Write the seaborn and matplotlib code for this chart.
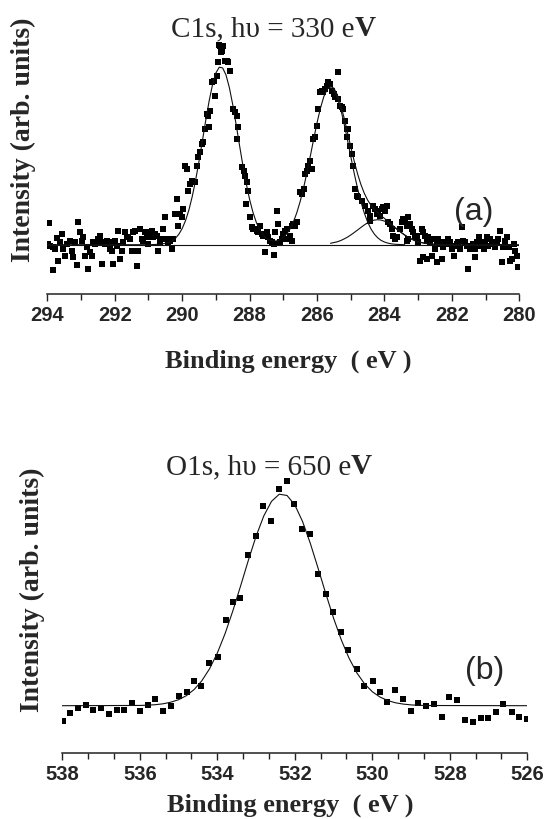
import matplotlib
matplotlib.use("Agg")
import matplotlib.pyplot as plt
import numpy as np
import pandas as pd
import seaborn as sns
from matplotlib.ticker import AutoMinorLocator

# ---------------- data (a) C1s, hv = 330 eV ----------------
c1_E_a = [293.97, 293.94, 293.92, 293.84, 293.82, 293.77, 293.72, 293.67, 293.62, 293.57,
          293.53, 293.48, 293.43, 293.33, 293.28, 293.23, 293.18, 293.13, 293.08, 293.03,
          292.98, 292.93, 292.88, 292.83, 292.78, 292.73, 292.68, 292.64, 292.59, 292.54,
          292.49, 292.44, 292.39, 292.34, 292.29, 292.24, 292.19, 292.14, 292.09, 292.04,
          292.04, 291.99, 291.94, 291.89, 291.84, 291.79, 291.75, 291.70, 291.65, 291.60,
          291.55, 291.50, 291.45, 291.40, 291.35, 291.30, 291.25, 291.20, 291.15, 291.10,
          291.05, 291.00, 290.95, 290.90, 290.86, 290.81, 290.76, 290.71, 290.66, 290.61,
          290.56, 290.51, 290.46, 290.41, 290.36, 290.31, 290.26, 290.21, 290.16, 290.11,
          290.07, 290.01, 289.97, 289.92, 289.87, 289.82, 289.77, 289.72]
c1_I_a = [0.7, 21.4, -1, -2.6, -25, -4.3, 6.4, -16, 2.4, 10.7,
          -4.3, -11, 0.7, 4, -6, -12.6, 2.4, -20.3, 22.4, 12.4,
          4, 7.4, -11, -2.6, -24.3, -7.6, -11, 2.4, 0.7, 2.4,
          5.7, 9, -19.3, 2.4, 0.7, 4, 2.4, -4.3, -6, 2.4,
          -19.3, 4, -1, 14, -14.3, -6, 2.4, 12.4, 7.4, 7.4,
          5.7, -6, 12.4, 14, -21, -6, 15.7, 5.7, 4, 12.4,
          7.4, 0.7, 12.4, 14, 7.4, 10.7, 9, -6, 2.4, 5.7,
          15.7, 27.4, 5.7, 2.4, 4, -4.3, 5.7, 30.7, 45.7, 19,
          30.7, 27.4, 35.7, 79, 75.7, 54, 60.7, 64]
c1_E_b = [289.62, 289.57, 289.52, 289.47, 289.42, 289.37, 289.32, 289.27, 289.22, 289.20,
          289.17, 289.12, 289.07, 289.02, 288.98, 288.93, 288.91, 288.88, 288.85, 288.83,
          288.79, 288.73, 288.68, 288.63, 288.58, 288.48, 288.43, 288.38, 288.33, 288.36,
          288.23, 288.18, 288.13, 288.09, 288.04, 288.11, 287.99, 287.94, 287.89, 287.84,
          287.79, 287.74, 287.69, 287.64, 287.59, 287.54, 287.49, 287.44, 287.39, 287.34,
          287.29, 287.27, 287.25, 287.20, 287.15, 287.10, 287.05, 287.00, 286.95, 286.90,
          286.85, 286.80, 286.75, 286.75, 286.70, 286.65, 286.60, 286.50, 286.45, 286.40,
          286.36, 286.31, 286.26, 286.21, 286.16, 286.11, 286.06, 286.01, 285.96, 285.91,
          285.86, 285.81, 285.76, 285.71, 285.66, 285.61, 285.56, 285.51, 285.47, 285.39,
          285.37, 285.32, 285.27, 285.22, 285.17, 285.12, 285.12, 285.07, 285.02, 284.97,
          284.92]
c1_I_b = [62.4, 79, 87.4, 92.4, 100.7, 102.4, 115.7, 130.7, 129, 117.4,
          134, 162.4, 164, 149, 169, 182.4, 199.7, 198.4, 193, 194,
          199, 184, 184, 182.4, 174, 135.7, 132.4, 129, 117.4, 105.7,
          77.4, 74, 69, 62.4, 54, 40.7, 27.4, 17.4, 15.7, 15.7,
          14, 12.4, 19, 10.7, 9, -7.6, 12.4, 7.4, 4, 2.4,
          0.7, -10.3, 12.4, 34, 20.7, 2.4, 5.7, 10.7, 14, 15.7,
          5.7, 9, 4, 19, 20.7, 19, 22.4, 52.4, 50.7, 55.7,
          70.7, 74, 79, 84, 75.7, 105.7, 107.4, 119, 135.7, 152.4,
          154, 152.4, 155.7, 159, 162.4, 160.7, 154, 150.7, 147.4, 172.4,
          145.7, 139, 137.4, 135.7, 124, 115.7, 107.4, 115.7, 99, 90.7,
          79]
c1_E_c = [284.87, 284.82, 284.77, 284.67, 284.58, 284.48, 284.43, 284.43, 284.33, 284.28,
          284.23, 284.18, 284.13, 284.08, 284.03, 283.98, 283.93, 283.88, 283.83, 283.78,
          283.74, 283.69, 283.64, 283.54, 283.49, 283.44, 283.39, 283.34, 283.34, 283.29,
          283.29, 283.24, 283.19, 283.14, 283.09, 283.04, 282.99, 282.94, 282.89, 282.85,
          282.85, 282.80, 282.75, 282.75, 282.70, 282.65, 282.60, 282.55, 282.50, 282.45,
          282.45, 282.40, 282.35, 282.30, 282.25, 282.20, 282.15, 282.10, 282.05, 282.00,
          281.95, 281.91, 281.86, 281.81, 281.76, 281.71, 281.66, 281.61, 281.56, 281.51,
          281.46, 281.41, 281.36, 281.31, 281.31, 281.26, 281.21, 281.16, 281.11, 281.06,
          281.01, 280.97, 280.92, 280.87, 280.82, 280.77, 280.72, 280.67, 280.62, 280.57,
          280.52, 280.47, 280.42, 280.37, 280.32, 280.27, 280.22, 280.17, 280.13, 280.08,
          280.03]
c1_I_c = [55.7, 49, 47.4, 44, 39, 34, 29, 24, 39, 35.7,
          30.7, 34, 29, 35.7, 37.4, 34, 39, 22.4, 20.7, 15.7,
          9, 5.7, 7.4, 15.7, 22.4, 25.7, 24, 19, 4, 27.4,
          5.7, 20.7, 15.7, 12.4, 7.4, 9, 2.4, -16, 15.7, 12.4,
          -12.6, 9, 4, -14.3, 7.4, 2.4, -11, 5.7, -4.3, 0.7,
          -17.7, 5.7, 2.4, -14.3, -2.6, 2.4, 0.7, 5.7, 2.4, -4.3,
          -11, -1, 0.7, 2.4, -4.3, 17.4, 4, 2.4, -1, -24.3,
          -4.3, -1, 0.7, -4.3, -12.6, 2.4, 7.4, -1, 2.4, -4.3,
          2.4, 7.4, -1, 5.7, 0.7, 2.4, -2.6, 2.4, 5.7, 14,
          -17.7, -2.6, 4, 7.4, -2.6, -16, -14.3, 0.7, -6, -11,
          -22.6]

# fitted envelope
c1_fit_E = [294.0, 291.0, 290.8, 290.6, 290.4, 290.3, 290.2, 290.1, 290.0, 289.9,
            289.8, 289.7, 289.6, 289.5, 289.4, 289.3, 289.2, 289.1, 289.0, 288.9,
            288.8, 288.7, 288.6, 288.5, 288.4, 288.3, 288.2, 288.1, 288.0, 287.9,
            287.8, 287.7, 287.6, 287.5, 287.4, 287.3, 287.2, 287.1, 287.0, 286.9,
            286.8, 286.7, 286.6, 286.5, 286.4, 286.3, 286.2, 286.1, 286.0, 285.9,
            285.8, 285.7, 285.6, 285.5, 285.4, 285.3, 285.2, 285.1, 285.0, 284.9,
            284.8, 284.7, 284.6, 284.5, 284.4, 284.3, 284.2, 284.1, 284.0, 283.9,
            283.8, 283.7, 283.6, 283.5, 283.4, 283.3, 283.2, 283.1, 283.0, 282.8,
            282.6, 282.4, 282.2, 282.0, 280.0]
c1_fit_I = [0, 0, 0.2, 0.7, 2.2, 3.9, 6.4, 10.4, 16.1, 24.1,
            34.7, 48.3, 64.7, 83.5, 103.8, 124.4, 143.7, 160.0, 171.7, 177.5,
            176.8, 169.8, 157.1, 140.1, 120.4, 99.7, 79.5, 61.2, 45.3, 32.4,
            22.3, 14.9, 9.8, 6.3, 4.4, 3.6, 3.8, 4.9, 7.2, 10.8,
            15.8, 22.8, 31.9, 43.2, 56.6, 71.9, 88.4, 105.4, 121.8, 136.3,
            147.9, 155.4, 158.4, 156.5, 150.2, 140.1, 127.3, 112.9, 98.1, 84.0,
            71.2, 60.4, 51.6, 44.7, 39.4, 35.2, 31.9, 28.9, 26.3, 23.5,
            20.6, 17.7, 14.9, 12.2, 9.7, 7.5, 5.7, 4.1, 2.9, 1.4,
            0.6, 0.2, 0.1, 0, 0]
# component at ~285.6 eV (right flank)
c1_comp2_E = [285.6, 285.5, 285.4, 285.3, 285.2, 285.1, 285.0, 284.9, 284.8, 284.7,
              284.6, 284.5, 284.4, 284.3, 284.2, 284.1, 284.0, 283.9, 283.8, 283.7,
              283.6, 283.4]
c1_comp2_I = [157, 154.5, 147.3, 136.0, 121.6, 105.4, 88.4, 71.9, 56.6, 43.2,
              31.9, 22.8, 15.8, 10.6, 6.9, 4.3, 2.7, 1.6, 0.9, 0.5,
              0.25, 0]
# small component at ~284.2 eV
c1_comp3_E = [285.6, 285.4, 285.3, 285.2, 285.1, 285.0, 284.9, 284.8, 284.7,
              284.6, 284.5, 284.4, 284.3, 284.2, 284.1, 284.0, 283.9, 283.8, 283.7,
              283.6, 283.5, 283.4, 283.3, 283.2, 283.1, 283.0, 282.8, 282.6, 282.4]
c1_comp3_I = [1.4, 2.9, 4.1, 5.7, 7.5, 9.7, 12.1, 14.6, 17.2,
              19.7, 21.9, 23.6, 24.6, 25.0, 24.6, 23.6, 21.9, 19.7, 17.2,
              14.6, 12.1, 9.7, 7.5, 5.7, 4.1, 2.9, 1.4, 0.6, 0.2]
c1_base_E = [294.0, 280.0]
c1_base_I = [0, 0]
c1_ticks = [294, 292, 290, 288, 286, 284, 282, 280]

# ---------------- data (b) O1s, hv = 650 eV ----------------
o1_E = [537.97, 537.80, 537.60, 537.40, 537.20, 537.00, 536.79, 536.60, 536.40, 536.21,
        536.00, 535.80, 535.61, 535.41, 535.19, 535.00, 534.79, 534.59, 534.42, 534.21,
        533.99, 533.78, 533.60, 533.41, 533.22, 533.01, 532.81, 532.61, 532.41, 532.21,
        532.01, 531.82, 531.61, 531.41, 531.20, 531.01, 530.81, 530.62, 530.40, 530.21,
        529.99, 529.80, 529.61, 529.41, 529.22, 529.01, 528.81, 528.61, 528.41, 528.21,
        528.01, 527.82, 527.61, 527.41, 527.20, 527.01, 526.81, 526.62, 526.40, 526.21,
        526.02]
o1_I = [-15, -7.6, -2.6, 0.7, -4, -2.6, -8.7, -4, -4, 2.7,
        -5.3, 0.7, 6.7, -5.3, -0.6, 10, 14, 25, 20, 42.4,
        48.4, 86, 103.4, 107.4, 150.7, 169.4, 199.4, 185, 216.7, 224.4,
        201.7, 176.7, 171.7, 131.7, 111.7, 93.4, 74, 56, 36.7, 20,
        24.4, 14, 3.4, 15.7, 6.7, -5, 2.7, 0, 1.7, -11,
        8.4, 6, -14, -16, -12.6, -12, -6, 1.7, -6.6, -11,
        -13.3]
o1_fit_E = [538.0, 536.0, 535.8, 535.6, 535.4, 535.2, 535.0, 534.8, 534.6, 534.4,
            534.2, 534.0, 533.8, 533.6, 533.4, 533.2, 533.0, 532.8, 532.6, 532.4,
            532.2, 532.0, 531.8, 531.6, 531.4, 531.2, 531.0, 530.8, 530.6, 530.4,
            530.2, 530.0, 529.8, 529.6, 529.4, 529.2, 529.0, 528.8, 528.6, 526.0]
o1_fit_I = [0, 0.25, 0.5, 1.0, 1.9, 3.5, 6.0, 10.0, 16.1, 24.9,
            36.9, 52.6, 72.0, 94.7, 119.6, 145.2, 169.4, 189.8, 204.4, 211.5,
            210.2, 200.8, 184.2, 162.4, 137.6, 112.0, 87.6, 65.8, 47.5, 32.9,
            21.9, 14.0, 8.6, 5.1, 2.9, 1.6, 0.8, 0.4, 0.2, 0]
o1_ticks = [538, 536, 534, 532, 530, 528, 526]

# ---------------- figure ----------------
sns.set_style("white")
plt.rcParams['font.family'] = ['Liberation Serif', 'DejaVu Serif']

W, H = 545, 820
fig = plt.figure(figsize=(W / 100, H / 100), dpi=100)


def px_axes(left, right, top, bottom):
    return fig.add_axes([left / W, 1 - bottom / H, (right - left) / W, (bottom - top) / H])


def ftext(x, y, s, **kw):
    return fig.text(x / W, 1 - y / H, s, **kw)


ax1 = px_axes(47.3, 519.3, 5, 295)
ax2 = px_axes(62.3, 527.3, 445, 754)

c1_pts = pd.DataFrame({"E": c1_E_a + c1_E_b + c1_E_c, "I": c1_I_a + c1_I_b + c1_I_c})
o1_pts = pd.DataFrame({"E": o1_E, "I": o1_I})

line_kw = dict(color="#111111", linewidth=0.8, estimator=None, sort=False)
pt_kw = dict(marker="s", s=15, color="black", linewidth=0, legend=False)

sns.lineplot(x=c1_base_E, y=c1_base_I, ax=ax1, **line_kw)
sns.lineplot(x=c1_fit_E, y=c1_fit_I, ax=ax1, **line_kw)
sns.lineplot(x=c1_comp2_E, y=c1_comp2_I, ax=ax1, **line_kw)
sns.lineplot(x=c1_comp3_E, y=c1_comp3_I, ax=ax1, **line_kw)
sns.scatterplot(data=c1_pts, x="E", y="I", ax=ax1, **pt_kw)

sns.lineplot(x=o1_fit_E, y=o1_fit_I, ax=ax2, **line_kw)
sns.scatterplot(data=o1_pts, x="E", y="I", ax=ax2, **pt_kw)

ax1.set_xlim(294, 280)
ax1.set_ylim(-49.3, 240.7)
ax2.set_xlim(538, 526)
ax2.set_ylim(-47.3, 261.7)

for ax, ticks, nminor in ((ax1, c1_ticks, 2), (ax2, o1_ticks, 3)):
    for s in ("left", "top", "right"):
        ax.spines[s].set_visible(False)
    ax.spines["bottom"].set_color("#222222")
    ax.spines["bottom"].set_linewidth(1.1)
    ax.set_yticks([])
    ax.set_xticks(ticks)
    ax.set_xticklabels([str(t) for t in ticks], fontfamily="Liberation Sans",
                       fontweight="bold", fontsize=14.5)
    ax.xaxis.set_minor_locator(AutoMinorLocator(nminor))
    ax.tick_params(axis="x", which="major", direction="out", length=5, width=1.0,
                   color="#222222", pad=3, bottom=True)
    ax.tick_params(axis="x", which="minor", direction="out", length=4, width=1.0,
                   color="#222222", bottom=True)
    ax.set_xlabel("")
    ax.set_ylabel("")
    ax.set_facecolor("white")

# titles: regular text followed by a bold "V", centred as a whole
renderer = fig.canvas.get_renderer()


def title_bold_tail(xc, y, regular, tail, size=21):
    t1 = ftext(0, y, regular, fontsize=size, ha="left", va="baseline")
    t2 = ftext(0, y, tail, fontsize=size, fontweight="bold", ha="left", va="baseline")
    w1 = t1.get_window_extent(renderer).width
    w2 = t2.get_window_extent(renderer).width
    left = xc - (w1 + w2) / 2
    t1.set_x(left / W)
    t2.set_x((left + w1) / W)


title_bold_tail(273.5, 36.5, "C1s, h\u03c5 = 330 e", "V")
title_bold_tail(269, 474, "O1s, h\u03c5 = 650 e", "V")

# x labels
ftext(288, 368, "Binding energy  ( eV )", fontsize=19, fontweight="bold", ha="center", va="baseline")
ftext(290, 812, "Binding energy  ( eV )", fontsize=19, fontweight="bold", ha="center", va="baseline")

# y labels
ftext(23.5, 140, "Intensity (arb. units)", fontsize=20, fontweight="bold",
      rotation=90, ha="center", va="center")
ftext(32, 590, "Intensity (arb. units)", fontsize=20, fontweight="bold",
      rotation=90, ha="center", va="center")

# panel letters
ftext(474, 212, "(a)", fontsize=23, fontfamily="Liberation Sans", ha="center", va="center")
ftext(485, 671, "(b)", fontsize=23, fontfamily="Liberation Sans", ha="center", va="center")

fig.savefig("out.png", dpi=100, facecolor="white")
